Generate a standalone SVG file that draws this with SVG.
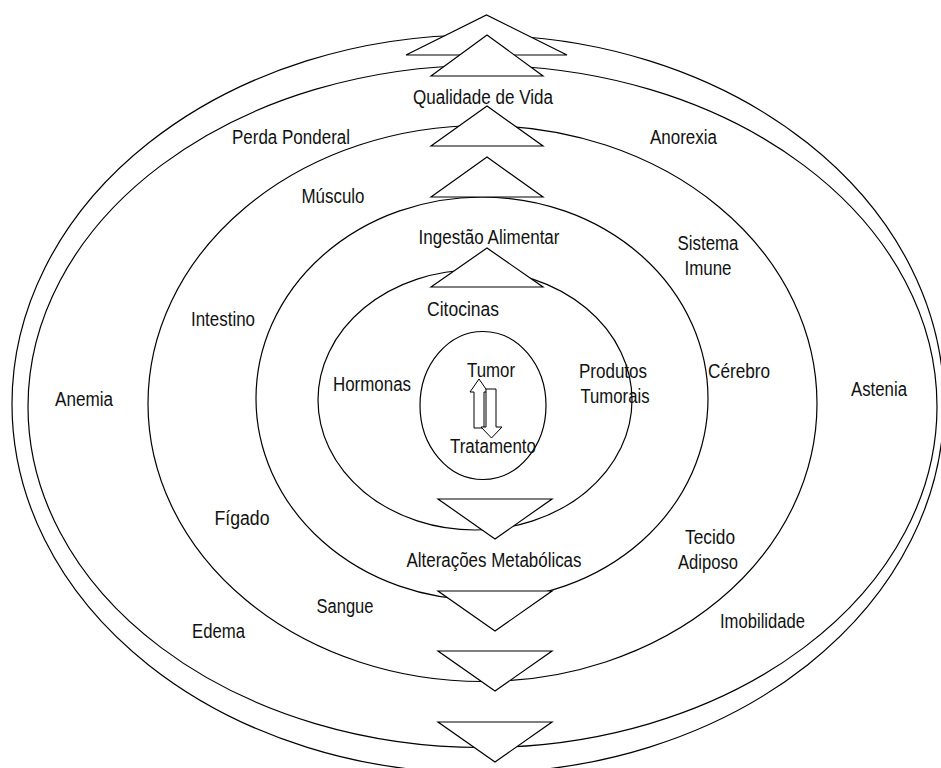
<svg xmlns="http://www.w3.org/2000/svg" width="941" height="768" viewBox="0 0 941 768">
  <style>
    .ring { fill: none; stroke: #000; stroke-width: 1.2; }
    .tri { fill: #fff; stroke: #000; stroke-width: 1.2; stroke-linejoin: miter; }
    .arr { fill: #fff; stroke: #000; stroke-width: 1; }
    text { font-family: "Liberation Sans", Arial, sans-serif; font-size: 20px; fill: #111; text-anchor: middle; }
  </style>
  <rect width="941" height="768" fill="#fff"/>

  <!-- concentric layers -->
  <g id="rings">
    <ellipse id="ring-outer" class="ring" cx="478" cy="404" rx="466" ry="369"/>
    <ellipse id="ring-2" class="ring" cx="482.5" cy="406.5" rx="454.5" ry="341"/>
    <ellipse id="ring-3" class="ring" cx="482.5" cy="403.5" rx="334.5" ry="278"/>
    <ellipse id="ring-4" class="ring" cx="482" cy="398.5" rx="226" ry="201.5"/>
    <ellipse id="ring-5" class="ring" cx="475" cy="400" rx="157" ry="130"/>
    <ellipse id="core" class="ring" cx="483" cy="405.5" rx="63" ry="74"/>
  </g>

  <!-- flow markers between layers -->
  <g id="connectors">
    <polygon class="tri" points="406,55 486.5,15 567,55"/>
    <polygon class="tri" points="431,76 487,35 543,76"/>
    <polygon class="tri" points="431,146 487,106 543,146"/>
    <polygon class="tri" points="431,197 487,157 543,197"/>
    <polygon class="tri" points="431,287 487,248 543,287"/>
    <polygon class="tri" points="438,499 552,499 495,539"/>
    <polygon class="tri" points="438,591 552,591 495,631"/>
    <polygon class="tri" points="438,651 552,651 495,691"/>
    <polygon class="tri" points="438,722 552,722 495,762"/>
    <!-- tumour / treatment double arrow -->
    <polygon class="arr" points="479,379 488,392 484,392 484,428 474,428 474,392 470,392"/>
    <polygon class="arr" points="486,389 496,389 496,427 502,427 491.5,438 481,427 486,427"/>
  </g>

  <g id="n-qualidade"><text x="483" y="104" textLength="140" lengthAdjust="spacingAndGlyphs">Qualidade de Vida</text></g>
  <g id="n-perda"><text x="291" y="144" textLength="118" lengthAdjust="spacingAndGlyphs">Perda Ponderal</text></g>
  <g id="n-anorexia"><text x="683.5" y="144" textLength="67" lengthAdjust="spacingAndGlyphs">Anorexia</text></g>
  <g id="n-musculo"><text x="333" y="203" textLength="63" lengthAdjust="spacingAndGlyphs">Músculo</text></g>
  <g id="n-ingestao"><text x="489" y="244" textLength="141" lengthAdjust="spacingAndGlyphs">Ingestão Alimentar</text></g>
  <g id="n-imune">
    <text x="708" y="250" textLength="61" lengthAdjust="spacingAndGlyphs">Sistema</text>
    <text x="708" y="275" textLength="47" lengthAdjust="spacingAndGlyphs">Imune</text>
  </g>
  <g id="n-intestino"><text x="223" y="326" textLength="64" lengthAdjust="spacingAndGlyphs">Intestino</text></g>
  <g id="n-citocinas"><text x="463" y="316" textLength="72" lengthAdjust="spacingAndGlyphs">Citocinas</text></g>
  <g id="n-anemia"><text x="84" y="406" textLength="58" lengthAdjust="spacingAndGlyphs">Anemia</text></g>
  <g id="n-hormonas"><text x="372" y="391" textLength="78" lengthAdjust="spacingAndGlyphs">Hormonas</text></g>
  <g id="n-tumor"><text x="491" y="377" textLength="48" lengthAdjust="spacingAndGlyphs">Tumor</text></g>
  <g id="n-tratamento"><text x="493" y="453" textLength="86" lengthAdjust="spacingAndGlyphs">Tratamento</text></g>
  <g id="n-produtos">
    <text x="613" y="378" textLength="68" lengthAdjust="spacingAndGlyphs">Produtos</text>
    <text x="615" y="403" textLength="69" lengthAdjust="spacingAndGlyphs">Tumorais</text>
  </g>
  <g id="n-cerebro"><text x="739" y="378" textLength="62" lengthAdjust="spacingAndGlyphs">Cérebro</text></g>
  <g id="n-astenia"><text x="879" y="396" textLength="56" lengthAdjust="spacingAndGlyphs">Astenia</text></g>
  <g id="n-figado"><text x="242" y="525" textLength="55" lengthAdjust="spacingAndGlyphs">Fígado</text></g>
  <g id="n-tecido">
    <text x="710" y="544" textLength="50" lengthAdjust="spacingAndGlyphs">Tecido</text>
    <text x="708" y="569" textLength="60" lengthAdjust="spacingAndGlyphs">Adiposo</text>
  </g>
  <g id="n-alteracoes"><text x="494" y="567" textLength="175" lengthAdjust="spacingAndGlyphs">Alterações Metabólicas</text></g>
  <g id="n-sangue"><text x="345" y="613" textLength="57" lengthAdjust="spacingAndGlyphs">Sangue</text></g>
  <g id="n-edema"><text x="218.5" y="638" textLength="53" lengthAdjust="spacingAndGlyphs">Edema</text></g>
  <g id="n-imobilidade"><text x="762.5" y="628" textLength="85" lengthAdjust="spacingAndGlyphs">Imobilidade</text></g>
</svg>
